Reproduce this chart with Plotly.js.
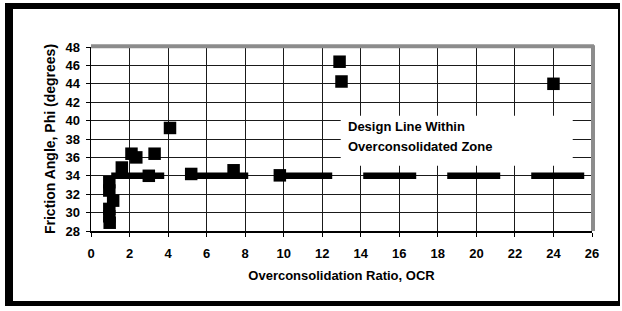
<!DOCTYPE html>
<html>
<head>
<meta charset="utf-8">
<script src="https://cdn.plot.ly/plotly-3.0.1.min.js"></script>
<style>
html,body{margin:0;padding:0;background:#fff;}
#wrap{position:relative;width:622px;height:311px;overflow:hidden;}
#chart{position:absolute;left:0;top:0;width:622px;height:311px;}
#frame{position:absolute;left:5px;top:3px;width:615px;height:303px;box-sizing:border-box;
  border-left:8px solid #000;border-top:6px solid #000;border-right:2px solid #000;border-bottom:5px solid #000;pointer-events:none;}
</style>
</head>
<body>
<div id="wrap"><div id="chart"></div><div id="frame"></div></div>
<script>
// Measured data points (OCR, friction angle)
const ocr = [0.95, 0.95, 1.15, 0.95, 0.95, 0.97, 1.6, 2.1, 2.35, 3.0, 3.3, 4.1, 5.2, 7.4, 9.8, 12.9, 13.0, 24.0];
const phi = [33.3, 32.4, 31.3, 30.4, 29.6, 28.9, 34.9, 36.4, 36.0, 34.0, 36.4, 39.2, 34.2, 34.6, 34.05, 46.4, 44.25, 44.0];
// Design line
const designX = [1.05, 26];
const designY = [34, 34];
// Axis ticks
const xTicks = [0, 2, 4, 6, 8, 10, 12, 14, 16, 18, 20, 22, 24, 26];
const yTicks = [28, 30, 32, 34, 36, 38, 40, 42, 44, 46, 48];
const noteLines = ["Design Line Within", "Overconsolidated Zone"];

const F = "Arial, 'Liberation Sans', sans-serif";

const traces = [
  {
    x: designX, y: designY, type: 'scatter', mode: 'lines',
    line: {color: '#000', width: 6.5, dash: '53px,31px'},
    hoverinfo: 'skip', showlegend: false
  },
  {
    x: ocr, y: phi, type: 'scatter', mode: 'markers',
    marker: {symbol: 'square', size: 12.5, color: '#000', line: {width: 0}},
    showlegend: false
  }
];

const layout = {
  width: 622, height: 311,
  margin: {l: 91, r: 30, t: 47, b: 80, pad: 0},
  paper_bgcolor: '#fff', plot_bgcolor: '#fff',
  showlegend: false,
  font: {family: F, color: '#000', size: 12},
  xaxis: {
    range: [0, 26], tickvals: xTicks, ticktext: xTicks.map(String),
    showgrid: true, gridcolor: '#1a1a1a', gridwidth: 1,
    zeroline: false, showline: true, linecolor: '#000', linewidth: 1.5,
    ticks: 'outside', ticklen: 4, tickwidth: 1, tickcolor: '#000',
    ticklabelstandoff: 6,
    tickfont: {family: F, size: 13, weight: 'bold', color: '#000'},
    title: {text: 'Overconsolidation Ratio, OCR', standoff: 11,
            font: {family: F, size: 13, weight: 'bold', color: '#000'}}
  },
  yaxis: {
    range: [28, 48], tickvals: yTicks, ticktext: yTicks.map(String),
    showgrid: true, gridcolor: '#1a1a1a', gridwidth: 1,
    zeroline: false, showline: true, linecolor: '#000', linewidth: 1.5,
    ticks: 'outside', ticklen: 4, tickwidth: 1, tickcolor: '#000',
    ticklabelstandoff: 3,
    tickfont: {family: F, size: 13, weight: 'bold', color: '#000'},
    title: {text: 'Friction Angle, Phi (degrees)', standoff: 6,
            font: {family: F, size: 14, weight: 'bold', color: '#000'}}
  },
  shapes: [
    {type: 'rect', xref: 'x', yref: 'y', x0: 12.96, x1: 25.0, y0: 35.1, y1: 40.53,
     fillcolor: '#fff', line: {width: 0}, layer: 'between'},
    {type: 'line', xref: 'paper', yref: 'paper', x0: 0, x1: 1.004, y0: 1.004, y1: 1.004,
     line: {color: '#8c8c8c', width: 4}, layer: 'above'},
    {type: 'line', xref: 'paper', yref: 'paper', x0: 1.002, x1: 1.002, y0: 0, y1: 1.01,
     line: {color: '#8c8c8c', width: 4}, layer: 'above'}
  ],
  annotations: [
    {xref: 'x', yref: 'y', x: 13.23, y: 39.34, xanchor: 'left', yanchor: 'middle',
     text: noteLines[0], showarrow: false, align: 'left',
     font: {family: F, size: 13, weight: 'bold', color: '#000'}},
    {xref: 'x', yref: 'y', x: 13.23, y: 37.16, xanchor: 'left', yanchor: 'middle',
     text: noteLines[1], showarrow: false, align: 'left',
     font: {family: F, size: 13, weight: 'bold', color: '#000'}}
  ]
};

Plotly.newPlot('chart', traces, layout, {displayModeBar: false, staticPlot: true});
</script>
</body>
</html>
